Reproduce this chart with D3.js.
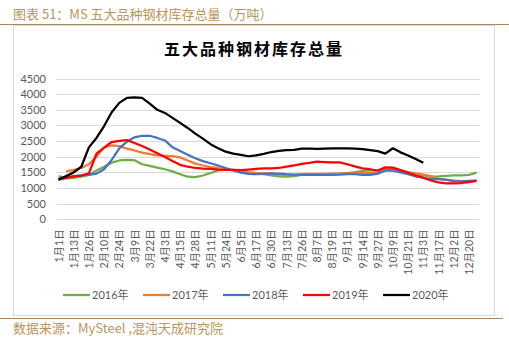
<!DOCTYPE html>
<html>
<head>
<meta charset="utf-8">
<script src="https://cdn.jsdelivr.net/npm/d3@7/dist/d3.min.js"></script>
<style>
  html, body { margin: 0; padding: 0; background: #ffffff; }
  svg { display: block; }
</style>
</head>
<body>
<svg id="chart" width="509" height="340"></svg>
<script>
// ---------------- data ----------------
const categories = [
  "1月1日","1月7日","1月13日","1月19日","1月26日","2月3日","2月10日","2月17日","2月24日","3月2日",
  "3月9日","3月15日","3月22日","3月27日","4月3日","4月9日","4月15日","4月22日","4月28日","5月5日",
  "5月11日","5月17日","5月24日","5月29日","6月5日","6月11日","6月17日","6月24日","6月30日","7月7日",
  "7月13日","7月20日","7月26日","8月1日","8月7日","8月13日","8月19日","8月26日","9月1日","9月7日",
  "9月14日","9月21日","9月27日","10月3日","10月9日","10月15日","10月21日","10月28日","11月3日","11月10日",
  "11月17日","11月24日","12月2日","12月9日","12月20日","12月27日"
];
const tickLabels = [
  "1月1日","1月13日","1月26日","2月10日","2月24日","3月9日","3月22日","4月3日","4月15日","4月28日",
  "5月11日","5月24日","6月5日","6月17日","6月30日","7月13日","7月26日","8月7日","8月19日","9月1日",
  "9月14日","9月27日","10月9日","10月21日","11月3日","11月17日","12月2日","12月20日"
];
const yTicks = [0,500,1000,1500,2000,2500,3000,3500,4000,4500];
const seriesNames = ["2016年","2017年","2018年","2019年","2020年"];

const values2016 = [1380,1310,1320,1360,1420,1560,1680,1810,1880,1900,
  1890,1760,1710,1650,1600,1530,1440,1360,1350,1400,
  1480,1560,1590,1580,1540,1500,1470,1440,1400,1370,
  1360,1380,1420,1440,1440,1440,1450,1460,1480,1510,
  1550,1560,1560,1560,1560,1520,1480,1440,1400,1360,
  1370,1390,1400,1400,1420,1490];
const values2017 = [null,1530,1580,1640,1760,2000,2300,2360,2340,2260,
  2200,2130,2080,2040,2030,2020,1980,1880,1780,1720,
  1670,1640,1590,1560,1530,1500,1480,1470,1460,1430,
  1410,1420,1440,1450,1450,1450,1460,1460,1470,1480,
  1480,1480,1500,1590,1600,1560,1510,1470,1430,1380,
  1300,1260,1240,1220,1220,1230];
const values2018 = [1270,1330,1380,1400,1420,1460,1600,1900,2270,2480,
  2620,2670,2670,2600,2520,2300,2180,2060,1950,1860,
  1790,1720,1640,1560,1490,1450,1440,1450,1470,1460,
  1440,1430,1420,1420,1420,1420,1420,1430,1440,1440,
  1420,1420,1460,1560,1560,1500,1440,1370,1320,1290,
  1280,1270,1220,1210,1230,1240];
const values2019 = [1270,1320,1370,1400,1470,2100,2290,2470,2510,2530,
  2440,2340,2230,2110,1990,1860,1740,1680,1640,1620,
  1610,1590,1580,1580,1570,1590,1610,1630,1630,1640,
  1680,1720,1770,1800,1840,1830,1820,1820,1760,1690,
  1630,1600,1560,1660,1650,1570,1490,1400,1330,1240,
  1180,1150,1150,1160,1190,1230];
const values2020 = [1270,1380,1500,1680,2300,2600,2980,3420,3720,3880,
  3900,3880,3700,3500,3400,3240,3080,2920,2740,2580,
  2400,2270,2160,2100,2060,2015,2040,2090,2150,2190,
  2210,2220,2260,2260,2250,2260,2270,2270,2270,2260,
  2240,2210,2180,2100,2270,2140,2040,1930,1810];

const seriesValues = [values2016, values2017, values2018, values2019, values2020];
const seriesColors = ["#70ad47","#ed7d31","#4472c4","#ff0000","#000000"];

// ---------------- drawing ----------------
const svg = d3.select("#chart");
const gold = "#b8955a";
const cjk = "'Noto Sans CJK SC', sans-serif";
const latin = "Lato, 'Noto Sans CJK SC', sans-serif";

// header
svg.append("text").attr("x", 13).attr("y", 19)
  .attr("fill", gold).style("font-family", cjk).style("font-size", "13px")
  .text("图表 51：MS 五大品种钢材库存总量（万吨）");
svg.append("line").attr("x1", 0).attr("x2", 509).attr("y1", 24.5).attr("y2", 24.5)
  .attr("stroke", "#a8875a").attr("stroke-width", 1);

// chart frame
svg.append("rect").attr("x", 13.5).attr("y", 25.5).attr("width", 481).attr("height", 290)
  .attr("fill", "#ffffff").attr("stroke", "#d9d9d9").attr("stroke-width", 1);

// bottom rule + footer
svg.append("line").attr("x1", 0).attr("x2", 503).attr("y1", 318.5).attr("y2", 318.5)
  .attr("stroke", "#a8875a").attr("stroke-width", 1);
svg.append("text").attr("x", 13).attr("y", 333)
  .attr("fill", gold).style("font-family", cjk).style("font-size", "13px")
  .text("数据来源：MySteel ,混沌天成研究院");

// title
svg.append("text").attr("x", 254).attr("y", 55).attr("text-anchor", "middle")
  .attr("fill", "#000").style("font-family", cjk).style("font-size", "16px")
  .style("font-weight", "bold").style("letter-spacing", "2px")
  .text("五大品种钢材库存总量");

// scales
const x = d3.scalePoint().domain(categories).range([58.5, 476.5]);
const y = d3.scaleLinear().domain([0, 4500]).range([219.3, 78.5]);

// gridlines
svg.append("g").selectAll("line").data(yTicks).join("line")
  .attr("x1", 56.5).attr("x2", 479.5)
  .attr("y1", d => Math.round(y(d)) + 0.5).attr("y2", d => Math.round(y(d)) + 0.5)
  .attr("stroke", "#d9d9d9").attr("stroke-width", 1);

// y axis
const yAxis = svg.append("g").attr("transform", "translate(56,0)")
  .call(d3.axisLeft(y).tickValues(yTicks).tickFormat(d3.format("d")).tickSize(0).tickPadding(10));
yAxis.select(".domain").remove();
yAxis.selectAll("text").attr("fill", "#595959")
  .style("font-family", latin).style("font-size", "11px");

// x axis
const xAxis = svg.append("g").attr("transform", `translate(0,${y(0)})`)
  .call(d3.axisBottom(x).tickValues(tickLabels).tickSize(0));
xAxis.select(".domain").remove();
xAxis.selectAll("text")
  .attr("transform", "rotate(-90)")
  .attr("x", -10).attr("y", 0).attr("dy", "0.35em")
  .style("text-anchor", "end")
  .attr("fill", "#595959")
  .style("font-family", latin).style("font-size", "10.5px");

// lines
const line = d3.line()
  .defined(d => d != null)
  .x((d, i) => x(categories[i]))
  .y(d => y(d));

seriesValues.forEach((vals, k) => {
  svg.append("path")
    .datum(vals)
    .attr("fill", "none")
    .attr("stroke", seriesColors[k])
    .attr("stroke-width", 2.25)
    .attr("stroke-linejoin", "round")
    .attr("d", line);
});

// legend
const legend = svg.append("g").attr("transform", "translate(63,295)");
seriesNames.forEach((name, k) => {
  const g = legend.append("g").attr("transform", `translate(${k * 80},0)`);
  g.append("line").attr("x1", 0).attr("x2", 27).attr("y1", 0).attr("y2", 0)
    .attr("stroke", seriesColors[k]).attr("stroke-width", 2.25);
  g.append("text").attr("x", 29).attr("y", 0).attr("dy", "0.35em")
    .attr("fill", "#595959").style("font-family", latin).style("font-size", "11px")
    .text(name);
});
</script>
</body>
</html>
